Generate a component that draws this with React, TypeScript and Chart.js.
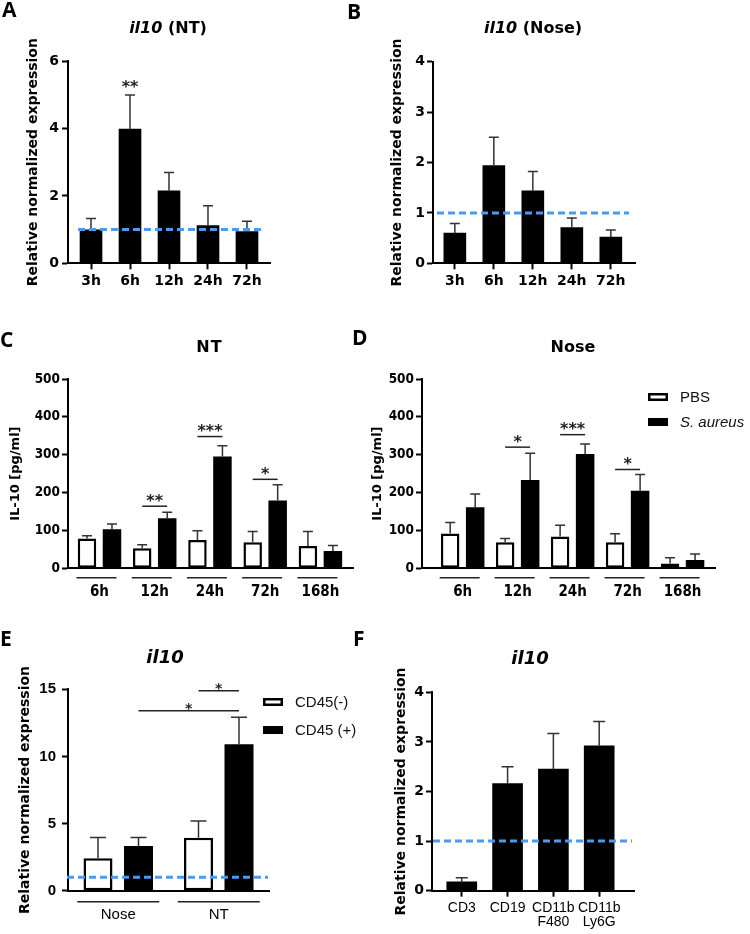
import React, { useEffect, useRef } from 'react';
import { Chart, registerables } from 'chart.js';

Chart.register(...registerables);

// ---------------- data ----------------
const hoursAB = ['3h', '6h', '12h', '24h', '72h'];
const il10NtMean = [0.99, 3.98, 2.15, 1.12, 0.94];
const il10NtUpper = [1.33, 4.99, 2.69, 1.71, 1.25];
const il10NoseMean = [0.6, 1.94, 1.44, 0.71, 0.52];
const il10NoseUpper = [0.79, 2.5, 1.82, 0.9, 0.66];

const hoursCD = ['6h', '12h', '24h', '72h', '168h'];
const ntPbsMean = [79, 53, 75, 69, 59];
const ntPbsUpper = [86, 62, 99, 97, 97];
const ntSaMean = [103, 132, 295, 179, 46];
const ntSaUpper = [117, 148, 324, 221, 60];
const nosePbsMean = [92, 69, 84, 69, 13];
const nosePbsUpper = [121, 79, 114, 91, 28];
const noseSaMean = [161, 233, 302, 205, 22];
const noseSaUpper = [196, 304, 328, 248, 38];

const tissues = ['Nose', 'NT'];
const cd45NegMean = [2.41, 3.95];
const cd45NegUpper = [3.97, 5.19];
const cd45PosMean = [3.33, 10.9];
const cd45PosUpper = [3.97, 12.91];

const cellTypes = [['CD3'], ['CD19'], ['CD11b', 'F480'], ['CD11b', 'Ly6G']];
const cellTypeMean = [0.18, 2.16, 2.45, 2.92];
const cellTypeUpper = [0.26, 2.5, 3.17, 3.41];

const referenceLevel = 1;

// significance: a/b = [datasetIndex, categoryIndex], y = bracket level (data units)
const sigA = [{ a: [0, 1], b: [0, 1], y: 5.06, text: '**', line: false }];
const sigC = [
  { a: [0, 1], b: [1, 1], y: 164, text: '**', line: true },
  { a: [0, 2], b: [1, 2], y: 348, text: '***', line: true },
  { a: [0, 3], b: [1, 3], y: 235, text: '*', line: true },
];
const sigD = [
  { a: [0, 1], b: [1, 1], y: 320, text: '*', line: true },
  { a: [0, 2], b: [1, 2], y: 353, text: '***', line: true },
  { a: [0, 3], b: [1, 3], y: 261, text: '*', line: true },
];
const sigE = [
  { a: [0, 1], b: [1, 1], y: 14.9, text: '*', line: true },
  { a: [1, 0], b: [1, 1], y: 13.4, text: '*', line: true },
];

// ---------------- fonts ----------------
const DJ = "'DejaVu Sans', sans-serif";
const LIB = "'Liberation Sans', Arial, sans-serif";
const NARROW = "'Liberation Sans Narrow', 'Arial Narrow', 'DejaVu Sans Condensed', 'Liberation Sans', sans-serif";
const OPEN = "'Open Sans', 'DejaVu Sans', sans-serif";

const BLUE = '#4a9af2';

// ---------------- plugin ----------------
const decorPlugin: any = {
  id: 'decor',
  afterDatasetsDraw(chart: any, _args: any, opts: any) {
    const ctx = chart.ctx;
    const ys = chart.scales.y;
    const area = chart.chartArea;
    // error bars
    chart.data.datasets.forEach((ds: any, di: number) => {
      const upper = ds.errUpper;
      if (!upper) return;
      const meta = chart.getDatasetMeta(di);
      ctx.save();
      ctx.strokeStyle = opts.errColor || '#333';
      ctx.lineWidth = opts.errWidth || 1.5;
      const cap = opts.cap || 10;
      meta.data.forEach((el: any, i: number) => {
        const x = el.x;
        const yTop = el.y;
        const yErr = ys.getPixelForValue(upper[i]);
        ctx.beginPath();
        ctx.moveTo(x, yTop);
        ctx.lineTo(x, yErr);
        ctx.moveTo(x - cap / 2, yErr);
        ctx.lineTo(x + cap / 2, yErr);
        ctx.stroke();
      });
      ctx.restore();
    });
    // reference line
    if (opts.ref) {
      const yv = ys.getPixelForValue(opts.ref.value);
      ctx.save();
      ctx.strokeStyle = BLUE;
      ctx.lineWidth = 3;
      ctx.setLineDash([7, 4]);
      ctx.beginPath();
      ctx.moveTo(area.left + opts.ref.x0, yv);
      ctx.lineTo(area.right + opts.ref.x1, yv);
      ctx.stroke();
      ctx.restore();
    }
    // significance
    if (opts.sig) {
      ctx.save();
      opts.sig.forEach((s: any) => {
        const ea = chart.getDatasetMeta(s.a[0]).data[s.a[1]];
        const eb = chart.getDatasetMeta(s.b[0]).data[s.b[1]];
        const yv = ys.getPixelForValue(s.y);
        if (s.line) {
          ctx.strokeStyle = '#222';
          ctx.lineWidth = 1.5;
          ctx.beginPath();
          ctx.moveTo(ea.x, yv);
          ctx.lineTo(eb.x, yv);
          ctx.stroke();
        }
        ctx.fillStyle = '#222';
        ctx.font = opts.sigFont;
        ctx.textAlign = 'center';
        ctx.textBaseline = 'alphabetic';
        ctx.fillText(s.text, (ea.x + eb.x) / 2, yv + opts.sigDy);
      });
      ctx.restore();
    }
  },
  afterDraw(chart: any, _args: any, opts: any) {
    const ctx = chart.ctx;
    const area = chart.chartArea;
    const xs = chart.scales.x;
    if (opts.groupLines) {
      const g = opts.groupLines;
      ctx.save();
      ctx.strokeStyle = '#222';
      ctx.lineWidth = 1.5;
      xs.ticks.forEach((_t: any, i: number) => {
        const cx = xs.getPixelForTick(i) + (g.shift || 0);
        const yy = area.bottom + g.dy;
        ctx.beginPath();
        ctx.moveTo(cx - g.half, yy);
        ctx.lineTo(cx + g.half, yy);
        ctx.stroke();
      });
      ctx.restore();
    }
    if (opts.legend) {
      const L = opts.legend;
      ctx.save();
      chart.data.datasets.forEach((ds: any, i: number) => {
        const x = area.left + L.dx;
        const yc = area.top + L.dy + i * L.gap;
        ctx.fillStyle = ds.backgroundColor;
        ctx.fillRect(x, yc - L.boxH / 2, L.boxW, L.boxH);
        if (ds.borderWidth) {
          ctx.strokeStyle = '#000';
          ctx.lineWidth = 2.5;
          ctx.strokeRect(x + 1.25, yc - L.boxH / 2 + 1.25, L.boxW - 2.5, L.boxH - 2.5);
        }
        ctx.fillStyle = '#111';
        ctx.font = (ds.italicLabel ? 'italic ' : '') + L.font;
        ctx.textAlign = 'left';
        ctx.textBaseline = 'middle';
        ctx.fillText(ds.label, x + L.textDx, yc + 1);
      });
      ctx.restore();
    }
  },
};

// ---------------- panel specs ----------------
type Spec = any;

const blackBar = { backgroundColor: '#000', borderWidth: 0 };
const whiteBar = { backgroundColor: '#fff', borderColor: '#000', borderWidth: 2.5, borderSkipped: false };

const panels: Spec[] = [
  {
    key: 'A',
    canvas: { x: 0, y: 0, w: 375, h: 300 },
    area: { l: 68, r: 270, t: 61, b: 263.3 },
    labels: hoursAB,
    datasets: [{ label: 'il10 (NT)', data: il10NtMean, errUpper: il10NtUpper, ...blackBar, barThickness: 22 }],
    yMax: 6, yStep: 2,
    yTickFont: { family: DJ, size: 14, weight: 'bold' }, yTickPad: 3,
    yTitle: 'Relative normalized expression', yTitleFont: { family: DJ, size: 14, weight: 'bold' }, yTitleX: 33.5,
    xFont: { family: DJ, size: 14, weight: 'bold' }, xPad: 4, xTicks: true, catPad: [0.09, 0.09],
    decor: { cap: 10, ref: { value: referenceLevel, x0: 10, x1: -5 }, sig: sigA, sigFont: `bold 16px ${DJ}`, sigDy: -0.5 },
  },
  {
    key: 'B',
    canvas: { x: 360, y: 0, w: 390, h: 300 },
    area: { l: 433, r: 635, t: 61.7, b: 263.3 },
    labels: hoursAB,
    datasets: [{ label: 'il10 (Nose)', data: il10NoseMean, errUpper: il10NoseUpper, ...blackBar, barThickness: 22 }],
    yMax: 4, yStep: 1,
    yTickFont: { family: DJ, size: 14, weight: 'bold' }, yTickPad: 2,
    yTitle: 'Relative normalized expression', yTitleFont: { family: DJ, size: 14, weight: 'bold' }, yTitleX: 397.5,
    xFont: { family: DJ, size: 14, weight: 'bold' }, xPad: 4, xTicks: true, catPad: [0.06, 0.12],
    decor: { cap: 10, ref: { value: referenceLevel, x0: 4, x1: -6 } },
  },
  {
    key: 'C',
    canvas: { x: 0, y: 300, w: 370, h: 310 },
    area: { l: 68, r: 353, t: 379, b: 568.3 },
    labels: hoursCD,
    datasets: [
      { label: 'PBS', data: ntPbsMean, errUpper: ntPbsUpper, ...whiteBar, categoryPercentage: 0.905, barPercentage: 0.74 },
      { label: 'S. aureus', data: ntSaMean, errUpper: ntSaUpper, ...blackBar, italicLabel: true, categoryPercentage: 0.905, barPercentage: 0.74 },
    ],
    yMax: 500, yStep: 100,
    yTickFont: { family: NARROW, size: 13.5, weight: 'bold' }, yTickPad: 2,
    yTitle: 'IL-10 [pg/ml]', yTitleFont: { family: DJ, size: 13, weight: 'bold' }, yTitleX: 16,
    xFont: { family: NARROW, size: 15, weight: 'bold' }, xPad: 14.5, xTicks: false, catPad: [0.07, 0.09],
    decor: { cap: 10, sig: sigC, sigFont: `bold 16px ${DJ}`, sigDy: -0.5, groupLines: { dy: 9.4, half: 20, shift: -3 } },
  },
  {
    key: 'D',
    canvas: { x: 360, y: 300, w: 390, h: 310 },
    area: { l: 422, r: 715, t: 379, b: 568.3 },
    labels: hoursCD,
    datasets: [
      { label: 'PBS', data: nosePbsMean, errUpper: nosePbsUpper, ...whiteBar, categoryPercentage: 0.91, barPercentage: 0.74 },
      { label: 'S. aureus', data: noseSaMean, errUpper: noseSaUpper, ...blackBar, italicLabel: true, categoryPercentage: 0.91, barPercentage: 0.74 },
    ],
    yMax: 500, yStep: 100,
    yTickFont: { family: NARROW, size: 13.5, weight: 'bold' }, yTickPad: 2,
    yTitle: 'IL-10 [pg/ml]', yTitleFont: { family: DJ, size: 13, weight: 'bold' }, yTitleX: 377.5,
    xFont: { family: NARROW, size: 15, weight: 'bold' }, xPad: 14.5, xTicks: false, catPad: [0.24, 0.09],
    decor: {
      cap: 10, sig: sigD, sigFont: `bold 16px ${DJ}`, sigDy: -0.5, groupLines: { dy: 9.4, half: 20, shift: -3 },
      legend: { dx: 226, dy: 18, gap: 25, boxW: 20, boxH: 8, textDx: 32, font: `15px ${LIB}` },
    },
  },
  {
    key: 'E',
    canvas: { x: 0, y: 600, w: 375, h: 334 },
    area: { l: 68, r: 269, t: 689.3, b: 890.7 },
    labels: tissues,
    datasets: [
      { label: 'CD45(-)', data: cd45NegMean, errUpper: cd45NegUpper, ...whiteBar, categoryPercentage: 0.806, barPercentage: 0.716 },
      { label: 'CD45 (+)', data: cd45PosMean, errUpper: cd45PosUpper, ...blackBar, categoryPercentage: 0.806, barPercentage: 0.716 },
    ],
    yMax: 15, yStep: 5,
    yTickFont: { family: LIB, size: 15, weight: 'bold' }, yTickPad: 6,
    yTitle: 'Relative normalized expression', yTitleFont: { family: DJ, size: 14, weight: 'bold' }, yTitleX: 25.5,
    xFont: { family: LIB, size: 15 }, xPad: 15.3, xTicks: false, catPad: [0, 0],
    decor: {
      cap: 16, ref: { value: referenceLevel, x0: -1, x1: -1 }, sig: sigE, sigFont: `bold 14px ${DJ}`, sigDy: 2,
      groupLines: { dy: 11, half: 41, shift: 0 },
      legend: { dx: 195, dy: 12.7, gap: 28, boxW: 20, boxH: 8, textDx: 32, font: `15px ${LIB}` },
    },
  },
  {
    key: 'F',
    canvas: { x: 360, y: 600, w: 390, h: 334 },
    area: { l: 432, r: 634, t: 692.3, b: 890.7 },
    labels: cellTypes,
    datasets: [{ label: 'il10', data: cellTypeMean, errUpper: cellTypeUpper, ...blackBar, barThickness: 30 }],
    yMax: 4, yStep: 1,
    yTickFont: { family: DJ, size: 14, weight: 'bold' }, yTickPad: 2,
    yTitle: 'Relative normalized expression', yTitleFont: { family: DJ, size: 14, weight: 'bold' }, yTitleX: 401.5,
    xFont: { family: LIB, size: 14, lineHeight: 1.0 }, xPad: 4, xTicks: true, catPad: [0.15, 0.26],
    decor: { cap: 12, ref: { value: referenceLevel, x0: 1, x1: -2 } },
  },
];

function buildConfig(p: Spec): any {
  const c = p.canvas;
  const a = p.area;
  const yW = a.l - c.x;
  const xH = c.y + c.h - a.b;
  const titleSize = p.yTitleFont.size;
  const titlePad = p.yTitleX - c.x - (titleSize * 1.2) / 2;
  return {
    type: 'bar',
    data: { labels: p.labels, datasets: p.datasets },
    plugins: [decorPlugin],
    options: {
      responsive: false,
      animation: false,
      devicePixelRatio: 1,
      layout: { padding: { left: 0, top: a.t - c.y, right: c.x + c.w - a.r, bottom: 0 } },
      plugins: {
        legend: { display: false },
        title: { display: false },
        tooltip: { enabled: false },
        decor: p.decor,
      },
      scales: {
        x: {
          offset: true,
          grid: {
            display: true,
            drawOnChartArea: false,
            drawTicks: p.xTicks,
            tickLength: 6,
            tickWidth: 2,
            tickColor: '#000',
            offset: false,
          },
          border: { display: true, color: '#000', width: 2 },
          ticks: { font: p.xFont, color: '#000', padding: p.xPad, autoSkip: false, maxRotation: 0, minRotation: 0 },
          afterFit: (s: any) => {
            s.height = xH;
          },
          afterBuildTicks: (s: any) => {
            s._startValue -= p.catPad[0];
            s._valueRange += p.catPad[0] + p.catPad[1];
          },
        },
        y: {
          min: 0,
          max: p.yMax,
          ticks: { stepSize: p.yStep, font: p.yTickFont, color: '#000', padding: p.yTickPad },
          grid: { drawOnChartArea: false, drawTicks: true, tickLength: 6, tickWidth: 2, tickColor: '#000' },
          border: { display: true, color: '#000', width: 2 },
          title: {
            display: true,
            text: p.yTitle,
            font: p.yTitleFont,
            color: '#000',
            padding: { top: titlePad, bottom: 0 },
          },
          afterFit: (s: any) => {
            s.width = yW;
          },
        },
      },
    },
  };
}

function ChartPanel({ spec }: { spec: Spec }) {
  const ref = useRef<HTMLCanvasElement>(null);
  useEffect(() => {
    const chart = new Chart(ref.current as HTMLCanvasElement, buildConfig(spec));
    return () => chart.destroy();
  }, [spec]);
  const c = spec.canvas;
  return (
    <canvas
      ref={ref}
      width={c.w}
      height={c.h}
      style={{ position: 'absolute', left: c.x, top: c.y, width: c.w, height: c.h }}
    />
  );
}

// ---------------- HTML text ----------------
function Txt({
  x, base, size, family, k = 0.846, align = 'center', weight = 'bold', children, spacing = 0,
}: any) {
  const w = 300;
  const left = align === 'center' ? x - w / 2 : x;
  return (
    <div
      style={{
        position: 'absolute',
        left,
        top: base - k * size,
        width: w,
        textAlign: align,
        fontFamily: family,
        fontSize: size,
        fontWeight: weight,
        lineHeight: `${size}px`,
        whiteSpace: 'nowrap',
        letterSpacing: spacing,
        color: '#000',
      }}
    >
      {children}
    </div>
  );
}

const panelLetters = [
  { t: 'A', x: 2, base: 18 },
  { t: 'B', x: 347, base: 20 },
  { t: 'C', x: 0, base: 348 },
  { t: 'D', x: 352, base: 346 },
  { t: 'E', x: 0, base: 647 },
  { t: 'F', x: 353, base: 647 },
];

export default function App() {
  return (
    <div style={{ position: 'absolute', left: 0, top: 0, width: 750, height: 934, background: '#fff', overflow: 'hidden' }}>
      {panels.map((p) => (
        <ChartPanel key={p.key} spec={p} />
      ))}
      {panelLetters.map((l) => (
        <Txt key={l.t} x={l.x} base={l.base} size={21} family={OPEN} k={0.888} align="left">
          {l.t}
        </Txt>
      ))}
      <Txt x={168} base={33.5} size={16} family={DJ}>
        <i>il10</i> (NT)
      </Txt>
      <Txt x={533} base={33.5} size={16} family={DJ}>
        <i>il10</i> (Nose)
      </Txt>
      <Txt x={209.5} base={353} size={16} family={DJ} spacing={1}>
        NT
      </Txt>
      <Txt x={573} base={353} size={16} family={DJ}>
        Nose
      </Txt>
      <Txt x={165} base={663} size={18} family={DJ}>
        <i>il10</i>
      </Txt>
      <Txt x={530} base={664} size={18} family={DJ}>
        <i>il10</i>
      </Txt>
    </div>
  );
}
